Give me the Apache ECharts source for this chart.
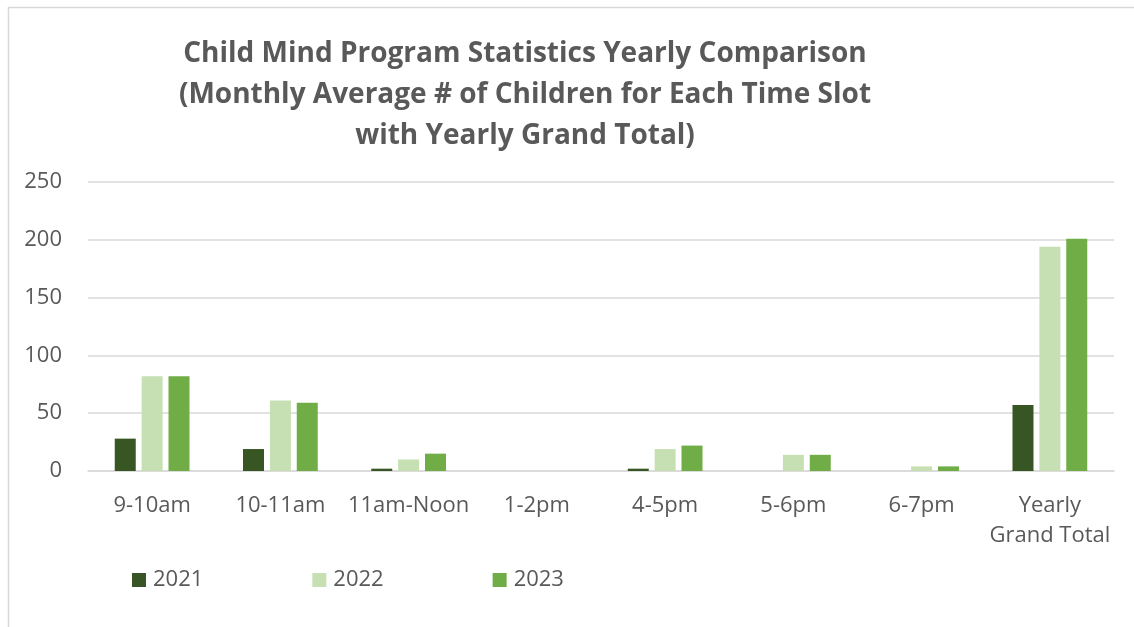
<!DOCTYPE html>
<html>
<head>
<meta charset="utf-8">
<script src="https://cdn.jsdelivr.net/npm/echarts@6/dist/echarts.min.js"></script>
<style>
html,body{margin:0;padding:0;background:#fff;}
#chart{width:1134px;height:627px;}
</style>
</head>
<body>
<div id="chart"></div>
<script>
const categories = ['9-10am','10-11am','11am-Noon','1-2pm','4-5pm','5-6pm','6-7pm','Yearly\nGrand Total'];
const seriesNames = ['2021','2022','2023'];
const values2021 = [28, 19, 2, 0, 2, 0, 0, 57];
const values2022 = [82, 61, 10, 0, 19, 14, 4, 194];
const values2023 = [82, 59, 15, 0, 22, 14, 4, 201];
const yTicks = [0, 50, 100, 150, 200, 250];
const colors = ['#375623', '#C6E0B4', '#70AD47'];
const titleText = 'Child Mind Program Statistics Yearly Comparison\n(Monthly Average # of Children for Each Time Slot\nwith Yearly Grand Total)';

const chart = echarts.init(document.getElementById('chart'), null, {renderer: 'canvas'});
const font = '"Open Sans", Lato, sans-serif';
const allValues = [values2021, values2022, values2023];
chart.setOption({
  animation: false,
  backgroundColor: '#fff',
  color: colors,
  title: {
    text: titleText,
    left: 520, top: 29, textAlign: 'center',
    textStyle: {fontFamily: font, fontWeight: 'bold', fontSize: 28, color: '#595959', lineHeight: 41}
  },
  graphic: [{
    type: 'rect', left: 6, top: 5, silent: true,
    shape: {width: 1140, height: 640},
    style: {fill: 'none', stroke: '#d9d9d9', lineWidth: 1.5}
  }],
  legend: {
    data: seriesNames, left: 127, top: 564, itemWidth: 14, itemHeight: 14, itemGap: 109,
    icon: 'rect',
    textStyle: {fontFamily: font, fontSize: 22, color: '#595959', padding: [0,0,0,2]}
  },
  grid: {left: 88, right: 20, top: 182, bottom: 156, containLabel: false},
  xAxis: {
    type: 'category', data: categories,
    axisTick: {show: false},
    axisLine: {lineStyle: {color: '#d9d9d9', width: 1.5}},
    axisLabel: {fontFamily: font, fontSize: 22, color: '#595959', margin: 20, lineHeight: 30, interval: 0}
  },
  yAxis: {
    type: 'value', min: yTicks[0], max: yTicks[yTicks.length-1], interval: 50,
    axisLine: {show: false}, axisTick: {show: false},
    splitLine: {lineStyle: {color: '#d9d9d9', width: 1.5}},
    axisLabel: {fontFamily: font, fontSize: 22, color: '#595959', margin: 26}
  },
  series: seriesNames.map((n, i) => ({
    name: n, type: 'bar', data: allValues[i],
    barWidth: 21, barGap: '28%',
    itemStyle: {color: colors[i]}
  }))
});
</script>
</body>
</html>
